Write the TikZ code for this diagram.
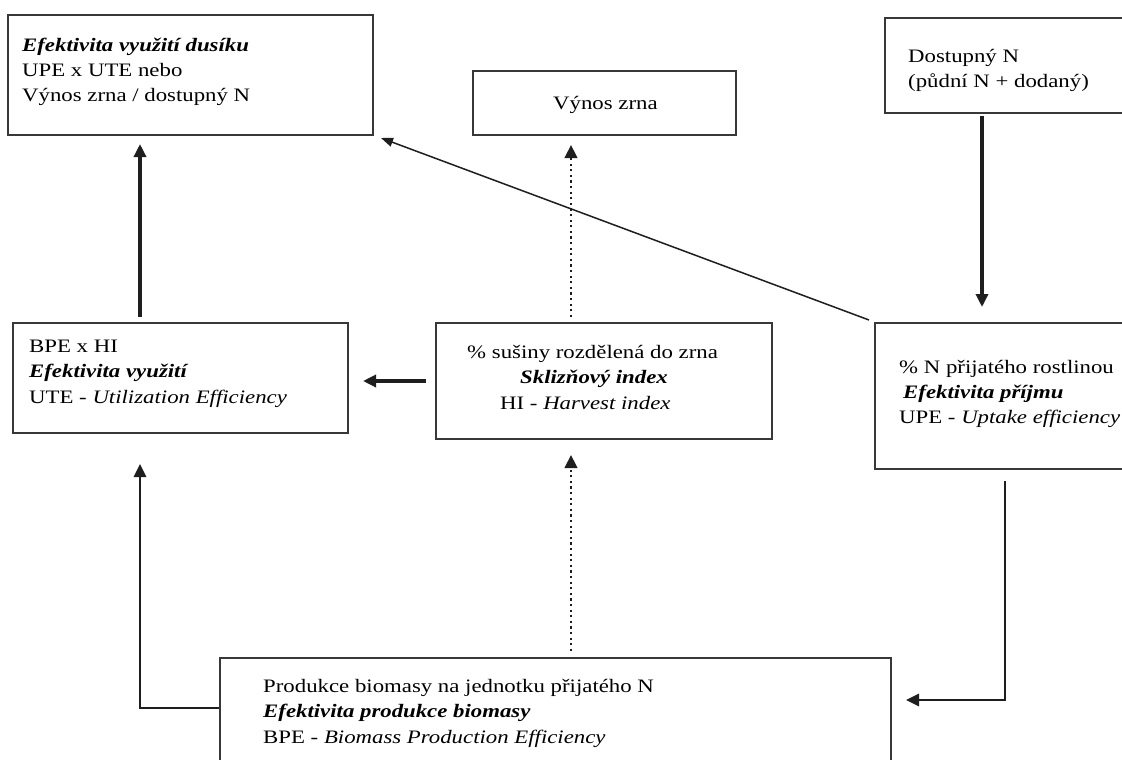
\documentclass[tikz,border=0pt]{standalone}
\usepackage{fontspec}
\setmainfont{Liberation Serif}[FakeStretch=1.2]
\usetikzlibrary{arrows.meta,calc}
\definecolor{boxgray}{HTML}{383838}
\definecolor{linedark}{HTML}{1E1E1E}
\begin{document}
\begin{tikzpicture}[x=1pt,y=-1pt,
  box/.style={draw=boxgray, line width=2pt, inner sep=0pt, fill=none},
  txt/.style={anchor=base west, inner sep=0pt, font=\fontsize{19}{25}\selectfont},
  thickarr/.style={draw=linedark, line width=3.8pt, -{Triangle[length=13pt,width=12pt]}},
  midarr/.style={draw=linedark, line width=2.8pt, -{Triangle[length=13pt,width=12pt]}},
  thinarr/.style={draw=linedark, line width=1.5pt, -{Triangle[length=12pt,width=9pt]}},
  dotarr/.style={draw=linedark, line width=2.4pt, dash pattern=on 2.2pt off 3.4pt, -{Triangle[length=13pt,width=12.5pt]}}
]
\useasboundingbox (0,0) rectangle (1122,760);
\clip (0,0) rectangle (1122,760);
\fill[white] (0,0) rectangle (1122,760);

% boxes
\node[box, minimum width=365pt, minimum height=120pt] (A) at (190.5,75) {};
\node[box, minimum width=263pt, minimum height=64pt] (B) at (604.5,103) {};
\node[box, minimum width=260pt, minimum height=95pt] (C) at (1015,65.5) {};
\node[box, minimum width=335pt, minimum height=110pt] (D) at (180.5,378) {};
\node[box, minimum width=336pt, minimum height=116pt] (E) at (604,381) {};
\node[box, minimum width=270pt, minimum height=146pt] (F) at (1010,396) {};
\node[box, minimum width=671pt, minimum height=130pt] (G) at (555.5,723) {};

% texts
\node[txt] (a1) at (22,52) {\textbf{\textit{Efektivita využití dusíku}}};
\node[txt] (a2) at (22,77) {UPE x UTE nebo};
\node[txt] (a3) at (22,102) {Výnos zrna / dostupný N};

\node[txt] (b1) at (553,110) {Výnos zrna};

\node[txt] (c1) at (908,63) {Dostupný N};
\node[txt] (c2) at (908,88) {(půdní N + dodaný)};

\node[txt] (d1) at (29,352) {BPE x HI};
\node[txt] (d2) at (29,377) {\textbf{\textit{Efektivita využití}}};
\node[txt] (d3) at (29,403) {UTE - \textit{Utilization Efficiency}};

\node[txt] (e1) at (467,358) {\% sušiny rozdělená do zrna};
\node[txt] (e2) at (520,383) {\textbf{\textit{Sklizňový index}}};
\node[txt] (e3) at (500,409) {HI - \textit{Harvest index}};

\node[txt] (f1) at (899,373) {\% N přijatého rostlinou};
\node[txt] (f2) at (903,398) {\textbf{\textit{Efektivita příjmu}}};
\node[txt] (f3) at (899,423) {UPE - \textit{Uptake efficiency}};

\node[txt] (g1) at (263,692) {Produkce biomasy na jednotku přijatého N};
\node[txt] (g2) at (263,717) {\textbf{\textit{Efektivita produkce biomasy}}};
\node[txt] (g3) at (263,743) {BPE - \textit{Biomass Production Efficiency}};

% helper coordinates (gaps next to the boxes)
\coordinate (As) at ([yshift=-8pt]A.south);
\coordinate (Bs) at ([yshift=-9pt]B.south);
\coordinate (Fn) at ([yshift=15pt]F.north);
\coordinate (De) at ([xshift=14pt]D.east);
\coordinate (Es) at ([yshift=-15pt]E.south);
\coordinate (Ds) at ([yshift=-30pt]D.south);
\coordinate (Ge) at ([xshift=14pt]G.east);
\coordinate (Gr) at ([yshift=-43pt]G.north east);

% connectors
\coordinate (DA0) at ([xshift=128pt,yshift=5pt]D.north west);
\draw[thickarr] (DA0) -- (DA0 |- As);

\coordinate (EB0) at ([xshift=136pt,yshift=5pt]E.north west);
\draw[dotarr] (EB0) -- (EB0 |- Bs);

\draw[thinarr] ([xshift=-5pt,yshift=2pt]F.north west) -- ([xshift=7pt,yshift=-2pt]A.south east);

\coordinate (CF0) at ([xshift=98pt,yshift=-2pt]C.south west);
\draw[thickarr] (CF0) -- (CF0 |- Fn);

\coordinate (ED0) at ([xshift=-9pt,yshift=-59pt]E.north west);
\draw[thickarr] (ED0) -- (ED0 -| De);

\coordinate (GE0) at ([xshift=352pt,yshift=6pt]G.north west);
\draw[dotarr] (GE0) -- (GE0 |- Es);

\coordinate (GD0) at ([yshift=-51pt]G.north west);
\coordinate (GD1) at (DA0 |- GD0);
\draw[midarr] (GD0) -- (GD1) -- (GD1 |- Ds);

\coordinate (FG0) at ([xshift=131pt,yshift=-11pt]F.south west);
\coordinate (FG1) at (FG0 |- Gr);
\draw[midarr] (FG0) -- (FG1) -- (FG1 -| Ge);
\end{tikzpicture}
\end{document}
